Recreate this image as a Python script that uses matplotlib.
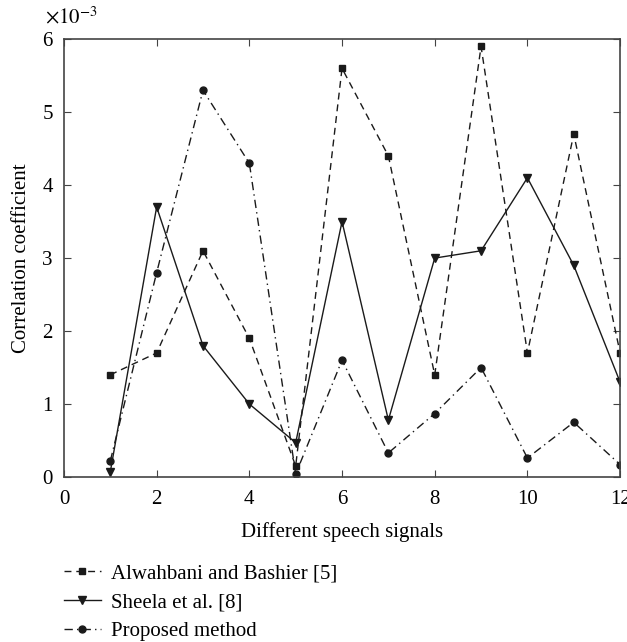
import matplotlib.pyplot as plt
import numpy as np

plt.rcParams["font.family"] = ["Liberation Serif", "DejaVu Serif"]
plt.rcParams["mathtext.fontset"] = "stix"

signals = np.arange(1, 13)
alwahbani = [1.4, 1.7, 3.1, 1.9, 0.15, 5.6, 4.4, 1.4, 5.9, 1.7, 4.7, 1.7]
sheela = [0.07, 3.7, 1.8, 1.0, 0.47, 3.5, 0.78, 3.0, 3.1, 4.1, 2.9, 1.3]
proposed = [0.22, 2.8, 5.3, 4.3, 0.04, 1.6, 0.33, 0.87, 1.5, 0.26, 0.75, 0.17]

labels = ["Alwahbani and Bashier [5]", "Sheela et al. [8]", "Proposed method"]
line_color = "#1a1a1a"


def main():
    fig = plt.figure(figsize=(6.27, 6.42), dpi=100)
    ax = fig.add_axes([0.102, 0.257, 0.887, 0.682])

    # values are given in units of 1e-3, multiplier drawn separately
    ax.plot(signals, alwahbani, linestyle=(0, (5, 3.5)), marker="s",
            markersize=4.5, color=line_color, lw=1.0, label=labels[0])
    ax.plot(signals, sheela, linestyle="-", marker="v",
            markersize=5.5, color=line_color, lw=1.0, label=labels[1])
    ax.plot(signals, proposed, linestyle=(0, (6, 3, 1, 3)), marker="o",
            markersize=5, color=line_color, lw=1.0, label=labels[2])

    ax.set_xlim(0, 12)
    ax.set_ylim(0, 6)
    ax.set_xticks(np.arange(0, 13, 2))
    ax.set_yticks(np.arange(0, 7))
    ax.tick_params(direction="in", top=True, right=True, labelsize=15, length=5,
                   color="#444444")
    ax.tick_params(axis="x", pad=9)
    ax.tick_params(axis="y", pad=8)
    for spine in ax.spines.values():
        spine.set_color("#444444")
        spine.set_linewidth(1.2)

    fig.text(0.071, 0.964, r"$\times10^{-3}$", fontsize=15, ha="left", va="baseline")

    ax.set_xlabel("Different speech signals", fontsize=15, labelpad=10)
    ax.set_ylabel("Correlation coefficient", fontsize=15, labelpad=8)

    fig.legend(loc="upper left", bbox_to_anchor=(0.088, 0.135), frameon=False,
               fontsize=15, handlelength=1.8, handletextpad=0.5, labelspacing=0.45,
               borderaxespad=0)

    fig.savefig("out.png", dpi=100)
    plt.close(fig)


if __name__ == "__main__":
    main()
